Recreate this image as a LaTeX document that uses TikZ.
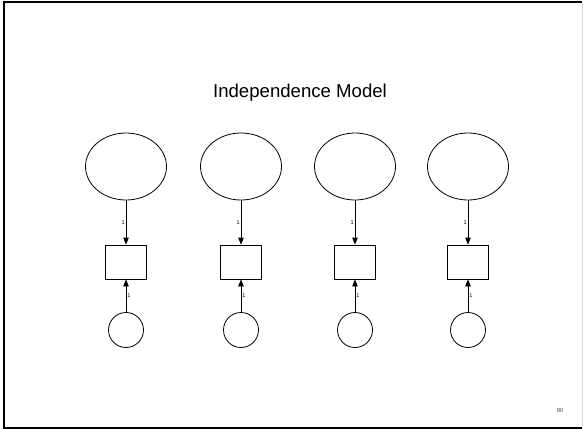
\documentclass[tikz,border=0pt]{standalone}
\usepackage{fontspec}
\setmainfont{Liberation Sans}
\newfontfamily\pagenumfont{Liberation Serif}
\usetikzlibrary{shapes.geometric,arrows.meta}
\begin{document}
\begin{tikzpicture}[x=1pt,y=-1pt,
  latent/.style={draw,ellipse,line width=0.8pt,minimum width=81pt,minimum height=67pt,inner sep=0pt},
  observed/.style={draw,rectangle,line width=0.8pt,minimum width=41pt,minimum height=34pt,inner sep=0pt},
  errvar/.style={draw,circle,line width=0.8pt,minimum size=35pt,inner sep=0pt},
  path/.style={draw,line width=0.8pt,-{Triangle[length=7pt,width=5.5pt]}},
  weight/.style={font=\fontsize{5.5}{6.5}\selectfont,inner sep=1pt}]
\useasboundingbox (0,0) rectangle (584,429);
% slide frame
\draw[line width=2pt] (582,2) -- (4,2) -- (4,427.5) -- (582,427.5);
\draw[line width=0.6pt,black!15] (582.3,3) -- (582.3,426.5);
% title
\node (title) at (300,93) {\fontsize{18.6}{22}\selectfont Independence Model};
% four independent variables, each with its own error term
\foreach \i/\x in {1/126,2/241,3/355,4/468} {
  \node[latent] (f\i) at (\x,166.5) {};
  \node[observed] (v\i) at (\x,262) {};
  \node[errvar] (e\i) at (\x,330) {};
  \draw[path] (f\i) -- node[weight,left] {1} (v\i);
  \draw[path] (e\i) -- node[weight,right] {1} (v\i);
}
% page number
\node[font=\pagenumfont\fontsize{6}{7}\selectfont,text=black!80] (pagenum) at (560,411) {80};
\end{tikzpicture}
\end{document}
